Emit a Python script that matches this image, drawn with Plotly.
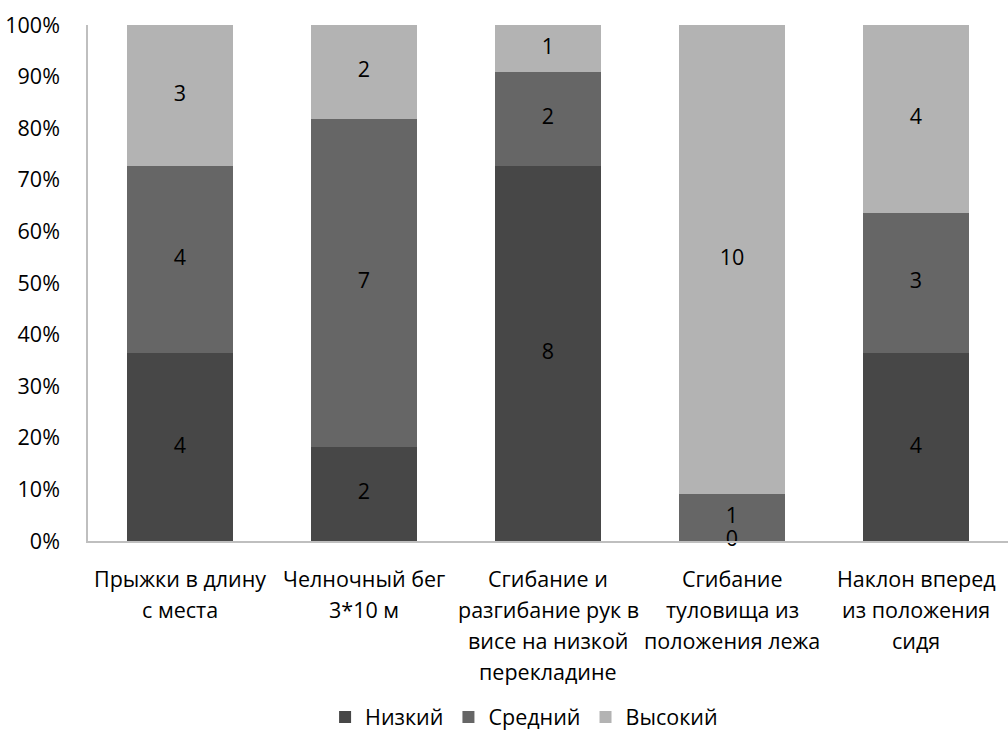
import numpy as np
import plotly.graph_objects as go

categories = [
    "Прыжки в длину<br>с места",
    "Челночный бег<br>3*10 м",
    "Сгибание и<br>разгибание рук в<br>висе на низкой<br>перекладине",
    "Сгибание<br>туловища из<br>положения лежа",
    "Наклон вперед<br>из положения<br>сидя",
]
series_names = ["Низкий", "Средний", "Высокий"]
low = [4, 2, 8, 0, 4]
mid = [4, 7, 2, 1, 3]
high = [3, 2, 1, 10, 4]
y_ticks = [0, 10, 20, 30, 40, 50, 60, 70, 80, 90, 100]
y_tick_labels = ["0%", "10%", "20%", "30%", "40%", "50%", "60%", "70%", "80%", "90%", "100%"]

colors = ["#474747", "#666666", "#b3b3b3"]
FONT = "Open Sans"
FS = 21.5

x = list(range(len(categories)))
values = np.array([low, mid, high], dtype=float)
totals = values.sum(axis=0)

fig = go.Figure()
for name, vals, col in zip(series_names, values, colors):
    fig.add_trace(go.Bar(
        x=x, y=vals, name=name, marker=dict(color=col, line=dict(width=0)),
        hoverinfo="skip",
    ))

# value labels at the middle of each stacked segment (in percent of column total)
pct = values / totals * 100
tops = np.cumsum(pct, axis=0)
mids = tops - pct / 2
for vals, m in zip(values, mids):
    fig.add_trace(go.Scatter(
        x=x, y=m, mode="text", text=[f"{int(v)}" for v in vals],
        textfont=dict(family=FONT, size=FS, color="#000000"),
        showlegend=False, hoverinfo="skip", cliponaxis=False,
    ))

# category labels, one line at a time for wider line spacing
line_step = 31
for xi, label in zip(x, categories):
    for k, line in enumerate(label.split("<br>")):
        fig.add_annotation(
            x=xi, y=0, xref="x", yref="paper", yanchor="top",
            text=line, showarrow=False, yshift=-21 - line_step * k,
            font=dict(family=FONT, size=FS, color="#000000"),
        )

fig.update_layout(
    width=1008, height=737,
    margin=dict(l=88, r=0, t=25, b=196, autoexpand=False),
    paper_bgcolor="white", plot_bgcolor="white",
    barmode="stack", barnorm="percent", bargap=0.425,
    font=dict(family=FONT, size=FS, color="#000000"),
    legend=dict(
        orientation="h", x=0.474, xanchor="center",
        yref="container", y=0.027, yanchor="middle",
        font=dict(family=FONT, size=FS, color="#000000"),
        traceorder="normal", itemwidth=30,
    ),
    xaxis=dict(
        range=[-0.5, len(categories) - 0.5], showticklabels=False,
        showline=True, linecolor="#bfbfbf", linewidth=1.5,
        showgrid=False, zeroline=False, ticks="",
    ),
    yaxis=dict(
        range=[0, 100], tickvals=y_ticks, ticktext=y_tick_labels,
        showline=True, linecolor="#bfbfbf", linewidth=1.5,
        showgrid=False, zeroline=False, ticks="", ticklabelstandoff=22,
        tickfont=dict(family=FONT, size=FS, color="#000000"),
    ),
)

fig.write_html("out.html")
